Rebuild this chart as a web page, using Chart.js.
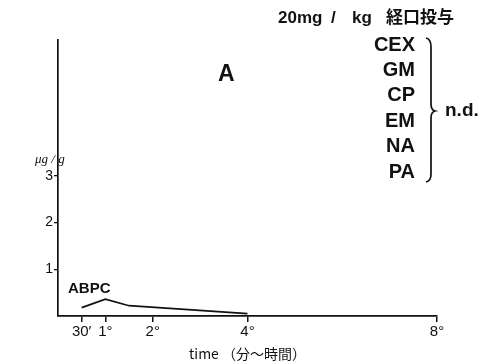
<!DOCTYPE html>
<html>
<head>
<meta charset="utf-8">
<script src="https://cdn.jsdelivr.net/npm/chart.js@4"></script>
<style>
  html, body { margin: 0; padding: 0; background: #fff; }
  #wrap { width: 486px; height: 362px; }
</style>
</head>
<body>
<div id="wrap"><canvas id="chart" width="486" height="362"></canvas></div>
<script>
// hours after dosing
const abpcHours = [0.5, 1, 1.5, 4];
// μg/g
const abpcValues = [0.18, 0.36, 0.22, 0.05];

const xTicks = [0.5, 1, 2, 4, 8];
const xTickLabels = ['30′', '1°', '2°', '4°', '8°'];
const yTicks = [1, 2, 3];

const notDetected = ['CEX', 'GM', 'CP', 'EM', 'NA', 'PA'];

const sans = '"Liberation Sans", Arial, sans-serif';
const jp = '"Noto Sans CJK JP", sans-serif';

const labels = {
    id: 'labels',
    afterDraw(chart) {
        const ctx = chart.ctx;
        ctx.save();
        ctx.fillStyle = '#111';
        ctx.textBaseline = 'middle';
        ctx.textAlign = 'left';

        // dose heading, spaced like the print
        ctx.font = 'bold 17px ' + sans;
        ctx.fillText('20mg', 278, 18);
        ctx.fillText('/', 331, 18);
        ctx.fillText('kg', 352, 18);
        ctx.font = 'bold 17px ' + jp;
        ctx.fillText('経口投与', 386, 17);

        ctx.font = 'bold 23px ' + sans;
        ctx.fillText('A', 218, 75);

        ctx.font = 'bold 20px ' + sans;
        ctx.textAlign = 'right';
        notDetected.forEach((name, i) => {
            ctx.fillText(name, 415, 45 + i * 25.4);
        });

        // brace
        ctx.strokeStyle = '#111';
        ctx.lineWidth = 1.7;
        ctx.beginPath();
        ctx.moveTo(426, 38);
        ctx.quadraticCurveTo(431, 39, 431, 47);
        ctx.lineTo(431, 104);
        ctx.quadraticCurveTo(431, 110, 435, 111);
        ctx.quadraticCurveTo(431, 112, 431, 118);
        ctx.lineTo(431, 174);
        ctx.quadraticCurveTo(431, 181, 426, 182);
        ctx.stroke();

        ctx.textAlign = 'left';
        ctx.font = 'bold 19px ' + sans;
        ctx.fillText('n.d.', 445, 111);

        ctx.font = 'bold 15px ' + sans;
        ctx.fillText('ABPC', 68, 289);

        ctx.font = 'italic 13px "Liberation Serif", serif';
        ctx.fillText('μg / g', 35, 160);
        ctx.restore();
    }
};

new Chart(document.getElementById('chart'), {
    type: 'line',
    data: {
        datasets: [{
            label: 'ABPC',
            data: abpcHours.map((h, i) => ({ x: h, y: abpcValues[i] })),
            borderColor: '#111',
            borderWidth: 1.7,
            pointRadius: 0,
            tension: 0,
            fill: false
        }]
    },
    options: {
        responsive: false,
        animation: false,
        layout: { padding: { left: 0, right: 49, top: 40, bottom: 0 } },
        plugins: { legend: { display: false }, tooltip: { enabled: false } },
        scales: {
            x: {
                type: 'linear',
                min: 0,
                max: 8,
                afterFit(s) { s.height = 46; },
                afterBuildTicks(s) { s.ticks = xTicks.map(v => ({ value: v })); },
                border: { color: '#111', width: 1.7 },
                grid: { drawOnChartArea: false, tickLength: 6, color: '#111', lineWidth: 1.5 },
                ticks: {
                    color: '#111',
                    padding: 1,
                    maxRotation: 0,
                    autoSkip: false,
                    font: { family: sans, size: 15 },
                    callback: (v) => xTickLabels[xTicks.indexOf(v)]
                },
                title: {
                    display: true,
                    text: 'time （分〜時間）',
                    color: '#111',
                    padding: { top: 0, bottom: 0 },
                    font: { family: jp, size: 14 }
                }
            },
            y: {
                type: 'linear',
                min: 0,
                max: 5.9,
                afterFit(s) { s.width = 58; },
                afterBuildTicks(s) { s.ticks = yTicks.map(v => ({ value: v })); },
                border: { color: '#111', width: 1.7 },
                grid: { drawOnChartArea: false, tickLength: 4, color: '#111', lineWidth: 1.3 },
                ticks: {
                    color: '#111',
                    padding: 1,
                    font: { family: sans, size: 14 }
                }
            }
        }
    },
    plugins: [labels]
});
</script>
</body>
</html>
